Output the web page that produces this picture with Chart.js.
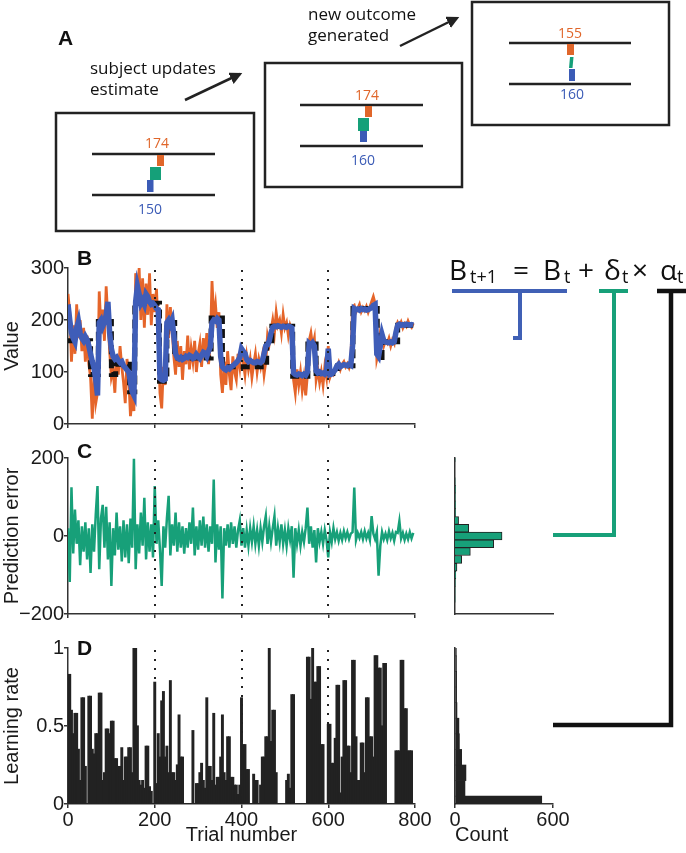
<!DOCTYPE html>
<html>
<head>
<meta charset="utf-8">
<script src="https://cdn.jsdelivr.net/npm/chart.js@4.4.0/dist/chart.umd.min.js"></script>
<style>
  body { margin: 0; background: #fff; width: 686px; height: 853px; position: relative; overflow: hidden;
         font-family: "Liberation Sans", Arial, sans-serif; }
  canvas { position: absolute; }
  .panel { position: absolute; font-weight: bold; font-size: 21px; line-height: 1; color: #111; }
  .note { position: absolute; font-family: "Open Sans", sans-serif; font-size: 17px; line-height: 21px; color: #111; }
  .num { position: absolute; font-family: "Liberation Sans Narrow", "Open Sans", sans-serif; font-size: 14px;
         line-height: 1; transform: translate(-50%, -50%); }
  .eq { position: absolute; font-family: "Open Sans", sans-serif; font-size: 28px; line-height: 1; color: #111; }
  .eqs { position: absolute; font-family: "Open Sans", sans-serif; font-size: 18px; line-height: 1; color: #111; }
  svg { position: absolute; left: 0; top: 0; pointer-events: none; }
</style>
</head>
<body>

<canvas id="chartB" width="445" height="181" style="left:0;top:255px"></canvas>
<canvas id="chartC" width="445" height="181" style="left:0;top:445px"></canvas>
<canvas id="chartD" width="445" height="218" style="left:0;top:635px"></canvas>
<canvas id="histC" width="160" height="181" style="left:425px;top:445px"></canvas>
<canvas id="histD" width="160" height="218" style="left:425px;top:635px"></canvas>

<!-- panel A schematic -->
<svg width="686" height="853">
  <defs>
    <marker id="head" viewBox="0 0 10 10" refX="8" refY="5" markerWidth="5" markerHeight="5" orient="auto">
      <path d="M0 0 L10 5 L0 10 z" fill="#222"/>
    </marker>
  </defs>
  <g fill="none" stroke="#222" stroke-width="2.5">
    <rect x="56" y="113" width="198" height="118"/>
    <rect x="265" y="63" width="197" height="124"/>
    <rect x="472" y="2" width="197" height="123"/>
    <path d="M92 154 H215 M92 195 H215"/>
    <path d="M300 105 H423 M300 146 H423"/>
    <path d="M509 43 H631 M509 84 H631"/>
    <path d="M185 100 L240 74" marker-end="url(#head)"/>
    <path d="M400 46 L457 18" marker-end="url(#head)"/>
  </g>
  <rect x="157" y="155" width="7" height="11" fill="#E0662A"/>
  <rect x="150" y="167" width="11" height="13" fill="#15A079"/>
  <rect x="147" y="180" width="6.5" height="12" fill="#3B5BB6"/>
  <rect x="365" y="106" width="7" height="11" fill="#E0662A"/>
  <rect x="358" y="118" width="11" height="13" fill="#15A079"/>
  <rect x="360" y="131" width="7" height="11" fill="#3B5BB6"/>
  <rect x="567" y="44" width="7" height="11" fill="#E0662A"/>
  <polygon points="570,57 573.5,57 572.5,68 569,68" fill="#15A079"/>
  <rect x="569" y="69" width="6" height="12" fill="#3B5BB6"/>
  <!-- equation connectors -->
  <path d="M452 291 H567 M520 291 V338 H513" stroke="#4060B5" stroke-width="4" fill="none"/>
  <path d="M599 291 H628 M614 291 V535 H553" stroke="#17A079" stroke-width="4" fill="none"/>
  <path d="M657 291 H686 M671 291 V725 H553" stroke="#111" stroke-width="4.5" fill="none"/>
</svg>

<div class="panel" style="left:58px;top:27px">A</div>
<div class="panel" style="left:77px;top:247px">B</div>
<div class="panel" style="left:77px;top:440px">C</div>
<div class="panel" style="left:77px;top:637px">D</div>

<div class="note" style="left:90px;top:57px">subject updates<br>estimate</div>
<div class="note" style="left:308px;top:3px">new outcome<br>generated</div>

<div class="num" style="left:157px;top:143px;color:#E0662A">174</div>
<div class="num" style="left:150px;top:209px;color:#3B5BB6">150</div>
<div class="num" style="left:367px;top:95px;color:#E0662A">174</div>
<div class="num" style="left:363px;top:160px;color:#3B5BB6">160</div>
<div class="num" style="left:570px;top:33px;color:#E0662A">155</div>
<div class="num" style="left:572px;top:94px;color:#3B5BB6">160</div>

<div class="eq" style="left:449px;top:255px">B</div>
<div class="eqs" style="left:470px;top:267px">t+1</div>
<div class="eq" style="left:513px;top:255px">=</div>
<div class="eq" style="left:543px;top:255px">B</div>
<div class="eqs" style="left:564px;top:267px">t</div>
<div class="eq" style="left:578px;top:255px">+</div>
<div class="eq" style="left:604px;top:255px">δ</div>
<div class="eqs" style="left:622px;top:267px">t</div>
<div class="eq" style="left:632px;top:255px">×</div>
<div class="eq" style="left:660px;top:255px">α</div>
<div class="eqs" style="left:677px;top:267px">t</div>

<script>
// one sample every 4 trials
const TRIAL_STEP = 4;

// B: outcomes (orange)
const outcomes = [
  250, 215, 120, 190, 135, 230, 165, 200, 140, 185,
  120, 170, 115, 90, 10, 95, 40, 60, 255, 185,
  220, 160, 265, 200, 140, 90, 105, 60, 130, 95,
  150, 110, 80, 40, 125, 90, 15, 50, 25, 290,
  235, 300, 200, 280, 185, 270, 210, 290, 190, 250,
  215, 260, 180, 60, 30, 110, 75, 230, 165, 225,
  180, 130, 95, 160, 110, 150, 85, 140, 115, 170,
  105, 145, 120, 160, 100, 135, 155, 110, 165, 130,
  175, 115, 150, 275, 205, 230, 185, 215, 95, 60,
  120, 75, 140, 95, 65, 130, 100, 85, 135, 110,
  150, 120, 95, 130, 105, 125, 90, 115, 135, 100,
  125, 110, 130, 95, 120, 170, 155, 180, 200, 175,
  215, 190, 200, 175, 210, 185, 195, 170, 190, 180,
  85, 60, 105, 75, 100, 65, 90, 55, 95, 160,
  175, 150, 165, 85, 105, 80, 100, 75, 110, 90,
  150, 90, 100, 95, 102, 108, 118, 105, 115, 120,
  110, 116, 108, 120, 225, 228, 215, 222, 230, 216,
  224, 218, 226, 215, 225, 235, 245, 232, 125, 140,
  175, 165, 150, 160, 155, 165, 150, 162, 155, 185,
  195, 188, 196, 185, 193, 188, 198, 190, 186, 194
];

// B: subject estimates (blue)
const beliefs = [
  230, 200, 175, 165, 158, 185, 197, 175, 165, 160,
  168, 162, 150, 135, 120, 108, 85, 55, 195, 200,
  188, 196, 210, 235, 175, 145, 130, 125, 128, 122,
  118, 120, 112, 108, 104, 100, 80, 62, 55, 235,
  265, 250, 232, 238, 230, 250, 245, 235, 230, 232,
  228, 222, 220, 88, 85, 84, 86, 195, 200, 192,
  200, 170, 135, 127, 125, 128, 124, 126, 130, 128,
  132, 130, 126, 128, 134, 130, 126, 132, 138, 136,
  130, 140, 148, 195, 200, 198, 203, 200, 130, 110,
  106, 104, 108, 106, 110, 112, 115, 118, 122, 128,
  145, 140, 136, 124, 120, 122, 120, 118, 118, 120,
  119, 118, 121, 135, 150, 152, 160, 175, 186, 188,
  187, 189, 188, 186, 188, 187, 186, 188, 187, 185,
  98, 95, 94, 96, 95, 93, 96, 94, 100, 155,
  152, 156, 150, 102, 98, 100, 97, 98, 96, 100,
  145, 95, 96, 100, 104, 112, 115, 110, 112, 114,
  113, 112, 115, 113, 150, 222, 220, 221, 219, 222,
  220, 221, 219, 220, 222, 224, 228, 230, 135, 130,
  150, 172, 160, 158, 157, 156, 158, 156, 158, 176,
  190, 192, 190, 191, 190, 192, 191, 190, 191, 190
];

// B: generative mean (black dashed), value holds from each change trial
const meanTrials = [0, 52, 70, 100, 110, 142, 154, 211, 228, 246, 330, 356, 458, 470, 518, 553, 572, 622, 657, 713, 724, 760, 800];
const meanValues = [160, 95, 197, 95, 115, 62, 232, 82, 195, 127, 204, 110, 160, 188, 92, 154, 97, 112, 222, 128, 158, 190, 190];

// C: prediction errors (green)
const predErrors = [
  20, -118, 125, -45, 68, -20, 40, -75, 25, -40,
  35, -60, 20, -95, 30, -40, 55, 128, -85, 45,
  80, -30, 75, -60, 35, -128, 20, -50, 60, -35,
  25, -65, 40, -55, 30, -70, 45, -30, 198, -85,
  30, -45, 60, -25, 98, -60, 35, -40, 30, -55,
  128, -20, 40, -35, -128, 25, -30, 45, 103, -50,
  30, -25, 60, -40, 35, -30, 25, -45, 20, -30,
  35, -20, 73, -50, 25, -35, 40, -25, 50, -30,
  30, -40, 25, -20, 145, -68, 30, -35, 25, -160,
  20, -25, 30, -30, 35, -20, 25, -30, 15, 40,
  -25, 20, -30, 15, -25, 20, -15, 25, -20, 15,
  -25, 20, -15, 25, 51, -20, 25, -15, 20, 51,
  -25, 20, -15, 30, -20, 15, -25, 20, -10, 25,
  -107, 20, -20, 15, -25, 10, -15, 20, 73, -20,
  25, -30, 15, -68, 20, -15, 10, -20, 15, -10,
  -55, 10, -15, 20, -8, 10, -12, 8, -10, 12,
  -6, 10, -8, 6, 10, 124, -10, 8, -5, 10,
  -8, 12, -6, 8, -10, 51, 6, -8, 10, -102,
  -25, 10, -8, 6, -10, 12, -6, 8, -12, 10,
  8, 38, -6, 8, -10, 6, -8, 10, -6, 8
];

// D: learning rates (black bars)
const learningRates = [
  0.83, 0.83, 0.60, 0.45, 0.58, 0.58, 0.35, 0.15, 0.68, 0.68,
  0.24, 0.00, 0.69, 0.69, 0.35, 0.32, 0.45, 0.45, 0.71, 0.71,
  0.15, 0.20, 0.48, 0.48, 0.45, 0.53, 0.53, 0.29, 0.29, 0.24,
  0.24, 0.36, 0.15, 0.30, 0.30, 0.36, 0.36, 0.20, 1.00, 1.00,
  0.50, 0.15, 0.12, 0.15, 0.10, 0.37, 0.37, 0.11, 0.08, 0.00,
  0.78, 0.13, 0.45, 0.30, 0.66, 0.72, 0.30, 0.37, 0.20, 0.79,
  0.20, 0.20, 0.15, 0.25, 0.57, 0.30, 0.30, 0.00, 0.00, 0.00,
  0.00, 0.00, 0.47, 0.00, 0.13, 0.13, 0.20, 0.26, 0.15, 0.10,
  0.68, 0.24, 0.24, 0.15, 0.58, 0.12, 0.17, 0.17, 0.30, 0.57,
  0.20, 0.15, 0.43, 0.43, 0.17, 0.17, 0.12, 0.12, 0.06, 0.12,
  0.68, 0.38, 0.38, 0.22, 0.22, 0.00, 0.00, 0.19, 0.15, 0.15,
  0.00, 0.12, 0.30, 0.30, 0.43, 0.43, 1.00, 0.40, 0.60, 0.60,
  0.20, 0.00, 0.00, 0.00, 0.00, 0.00, 0.15, 0.19, 0.10, 0.70,
  0.70, 0.00, 0.00, 0.00, 0.00, 0.00, 0.00, 0.00, 0.94, 0.94,
  0.67, 1.00, 0.78, 0.78, 0.88, 0.88, 0.38, 0.38, 0.00, 0.00,
  0.51, 0.51, 0.26, 0.26, 0.42, 0.76, 0.76, 0.07, 0.30, 0.79,
  0.79, 0.37, 0.37, 0.20, 0.92, 0.92, 0.43, 0.15, 0.15, 0.39,
  0.39, 0.20, 0.68, 0.68, 0.43, 0.43, 0.30, 0.95, 0.95, 0.87,
  0.87, 0.50, 0.90, 0.90, 0.00, 0.00, 0.00, 0.00, 0.00, 0.34,
  0.34, 0.34, 0.92, 0.92, 0.61, 0.61, 0.34, 0.34, 0.34, 0.00
];

// histograms
const peBinCenters = [-160, -140, -120, -100, -80, -60, -40, -20, 0, 20, 40, 60, 80, 100, 120, 140, 200];
const peBinCounts  = [1, 1, 2, 5, 12, 41, 94, 237, 288, 84, 22, 3, 3, 2, 3, 1, 1];
const lrBinCenters = [0, 0.1, 0.2, 0.3, 0.4, 0.5, 0.6, 0.7, 0.8, 0.9, 1.0];
const lrBinCounts  = [531, 61, 67, 41, 27, 24, 12, 10, 10, 9, 8];

// session boundaries (dotted lines)
const sessionBreaks = [200, 400, 600];

const ORANGE = '#E5652A';
const BLUE = '#3F5DB8';
const GREEN = '#17A079';
const INK = '#1a1a1a';
const AXIS = '#333';
const FONT = { family: '"Liberation Sans", Arial, sans-serif', size: 20 };

const trials = outcomes.map((_, i) => i * TRIAL_STEP);
const toPoints = vals => vals.map((v, i) => ({ x: trials[i], y: v }));

const sessionLines = {
  id: 'sessionLines',
  afterDatasetsDraw(chart) {
    const { ctx, chartArea: a, scales: { x } } = chart;
    ctx.save();
    ctx.strokeStyle = '#222';
    ctx.lineWidth = 2;
    ctx.setLineDash([2, 7]);
    sessionBreaks.forEach(v => {
      const px = Math.round(x.getPixelForValue(v));
      ctx.beginPath();
      ctx.moveTo(px, a.top + 2);
      ctx.lineTo(px, a.bottom);
      ctx.stroke();
    });
    ctx.restore();
  }
};

function xAxis(extra) {
  return Object.assign({
    type: 'linear', min: 0, max: 800,
    ticks: { display: false, stepSize: 200 },
    grid: { display: true, drawOnChartArea: false, tickLength: 4, color: AXIS, lineWidth: 1.5 },
    border: { color: AXIS, width: 1.5 },
    afterFit: s => { s.height = 12; }
  }, extra || {});
}

function yAxis(min, max, step, title, fmt) {
  return {
    min: min, max: max,
    ticks: { stepSize: step, font: FONT, color: INK, padding: 0, callback: fmt || (v => String(v)) },
    title: { display: true, text: title, font: FONT, color: INK, padding: 0 },
    grid: { display: true, drawOnChartArea: false, tickLength: 4, color: AXIS, lineWidth: 1.5 },
    border: { color: AXIS, width: 1.5 },
    afterFit: s => { s.width = 68; }
  };
}

const baseOpts = {
  responsive: false,
  animation: false,
  plugins: { legend: { display: false }, tooltip: { enabled: false } }
};

// panel B
new Chart(document.getElementById('chartB'), {
  type: 'line',
  data: {
    datasets: [
      { label: 'Estimate', data: toPoints(beliefs), borderColor: BLUE, borderWidth: 5.5, pointRadius: 0 },
      { label: 'Mean', data: meanTrials.map((t, i) => ({ x: t, y: meanValues[i] })), borderColor: '#111',
        borderWidth: 5, borderDash: [9, 5], stepped: 'before', pointRadius: 0 },
      { label: 'Outcome', data: toPoints(outcomes), borderColor: ORANGE, borderWidth: 2.8, pointRadius: 0 }
    ]
  },
  options: Object.assign({}, baseOpts, {
    layout: { padding: { top: 13, right: 30, left: 0, bottom: 0 } },
    scales: { x: xAxis(), y: yAxis(0, 300, 100, 'Value') }
  }),
  plugins: [sessionLines]
});

// panel C
new Chart(document.getElementById('chartC'), {
  type: 'line',
  data: {
    datasets: [
      { label: 'Prediction error', data: toPoints(predErrors), borderColor: GREEN, borderWidth: 2.5, pointRadius: 0 }
    ]
  },
  options: Object.assign({}, baseOpts, {
    layout: { padding: { top: 13, right: 30, left: 0, bottom: 0 } },
    scales: {
      x: xAxis(),
      y: yAxis(-200, 200, 200, 'Prediction error', v => v < 0 ? '\u2212' + Math.abs(v) : String(v))
    }
  }),
  plugins: [sessionLines]
});

// panel D
new Chart(document.getElementById('chartD'), {
  type: 'bar',
  data: {
    datasets: [
      { label: 'Learning rate', data: toPoints(learningRates), backgroundColor: '#222', borderWidth: 0,
        barPercentage: 1, categoryPercentage: 1, inflateAmount: 0.6 }
    ]
  },
  options: Object.assign({}, baseOpts, {
    layout: { padding: { top: 13, right: 30, left: 0, bottom: 0 } },
    scales: {
      x: xAxis({
        offset: false,
        ticks: { display: true, stepSize: 200, font: FONT, color: INK, padding: 0, maxRotation: 0 },
        grid: { display: true, offset: false, drawOnChartArea: false, tickLength: 4, color: AXIS, lineWidth: 1.5 },
        title: { display: true, text: 'Trial number', font: FONT, color: INK, padding: { top: 0, bottom: 6 } },
        afterFit: s => { s.height = 49; }
      }),
      y: yAxis(0, 1, 0.5, 'Learning rate')
    }
  }),
  plugins: [sessionLines]
});

// histogram of prediction errors
new Chart(document.getElementById('histC'), {
  type: 'bar',
  data: {
    datasets: [
      { data: peBinCenters.map((c, i) => ({ y: c, x: peBinCounts[i] })), backgroundColor: GREEN,
        borderColor: '#222', borderWidth: 1, barPercentage: 1, categoryPercentage: 1 }
    ]
  },
  options: Object.assign({}, baseOpts, {
    indexAxis: 'y',
    layout: { padding: { top: 13, right: 32, left: 0, bottom: 0 } },
    scales: {
      y: { type: 'linear', min: -200, max: 200, offset: false, ticks: { display: false },
           grid: { display: false }, border: { color: AXIS, width: 1.5 }, afterFit: s => { s.width = 30; } },
      x: { type: 'linear', min: 0, max: 600, ticks: { display: false },
           grid: { display: false }, border: { color: AXIS, width: 1.5 }, afterFit: s => { s.height = 12; } }
    }
  })
});

// histogram of learning rates
new Chart(document.getElementById('histD'), {
  type: 'bar',
  data: {
    datasets: [
      { data: lrBinCenters.map((c, i) => ({ y: c, x: lrBinCounts[i] })), backgroundColor: '#222',
        borderWidth: 0, barPercentage: 1, categoryPercentage: 1 }
    ]
  },
  options: Object.assign({}, baseOpts, {
    indexAxis: 'y',
    layout: { padding: { top: 13, right: 32, left: 0, bottom: 0 } },
    scales: {
      y: { type: 'linear', min: 0, max: 1, offset: false, ticks: { display: false },
           grid: { display: false }, border: { color: AXIS, width: 1.5 }, afterFit: s => { s.width = 30; } },
      x: { type: 'linear', min: 0, max: 600,
           ticks: { stepSize: 600, font: FONT, color: INK, padding: 0, maxRotation: 0 },
           grid: { display: true, drawOnChartArea: false, tickLength: 4, color: AXIS, lineWidth: 1.5 },
           border: { color: AXIS, width: 1.5 },
           title: { display: true, text: 'Count', font: FONT, color: INK, align: 'start', padding: { top: 0, bottom: 6 } },
           afterFit: s => { s.height = 49; } }
    }
  })
});
</script>
</body>
</html>
